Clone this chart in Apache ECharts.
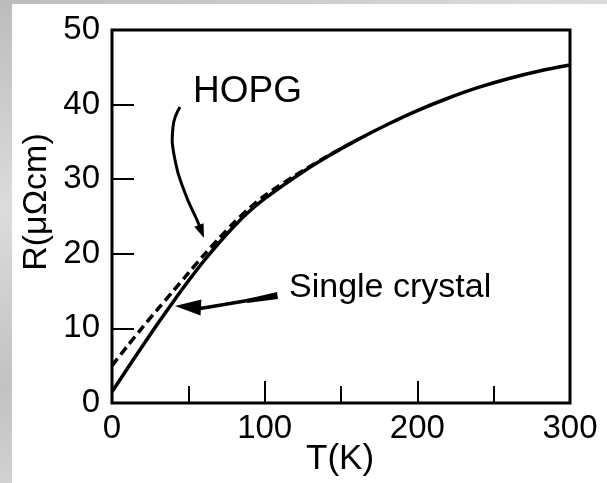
<!DOCTYPE html>
<html lang="en">
<head>
    <meta charset="UTF-8">
    <title>R(T) HOPG / single crystal</title>
    <style>
        html, body {
            margin: 0;
            padding: 0;
            width: 607px;
            height: 483px;
            overflow: hidden;
            background: linear-gradient(160deg, #bcbcbc 0%, #dcdcdc 30%, #c2c2c2 55%, #d8d8d8 75%, #bfbfbf 100%);
        }
        #container {
            position: absolute;
            left: 12px;
            top: 4px;
            width: 595px;
            height: 479px;
            background: #fff;
        }
    </style>
</head>
<body>
<div id="container"></div>
<script src="https://cdn.jsdelivr.net/npm/echarts@6/dist/echarts.min.js"></script>
<script>
    // values
    var T_single = [0, 10, 20, 30, 40, 50, 60, 70, 80, 90, 100, 120, 140, 160, 180, 200, 220, 240, 260, 280, 300];
    var R_single = [1.5, 4.6, 7.65, 10.65, 13.55, 16.35, 19.0, 21.45, 23.7, 25.7, 27.4, 30.3, 32.9, 35.2, 37.3, 39.2, 40.85, 42.3, 43.5, 44.5, 45.3];
    var T_hopg = [0, 10, 20, 30, 40, 50, 60, 70, 80, 90, 100, 120, 140, 160];
    var R_hopg = [5.0, 7.6, 10.15, 12.6, 15.0, 17.4, 19.8, 22.05, 24.2, 26.1, 27.8, 30.5, 32.95, 35.2];
    var xTicks = [0, 100, 200, 300];
    var yTicks = [0, 10, 20, 30, 40, 50];

    function pairs(xs, ys) {
        var out = [];
        for (var i = 0; i < xs.length; i++) {
            out.push([xs[i], ys[i]]);
        }
        return out;
    }

    // little filled arrow head, tip at (tx,ty), coming from (fx,fy)
    function head(fx, fy, tx, ty, len, half) {
        var dx = tx - fx, dy = ty - fy;
        var d = Math.sqrt(dx * dx + dy * dy);
        dx /= d; dy /= d;
        var bx = tx - dx * len, by = ty - dy * len;
        return {
            type: 'polygon',
            shape: { points: [[tx, ty], [bx - dy * half, by + dx * half], [bx + dy * half, by - dx * half]] },
            style: { fill: '#000' }
        };
    }

    var font = 'Liberation Sans';
    var dom = document.getElementById('container');
    var myChart = echarts.init(dom);

    var option = {
        animation: false,
        grid: {
            left: 100,
            top: 26,
            right: 37,
            bottom: 80,
            show: true,
            borderColor: '#000',
            borderWidth: 3,
            backgroundColor: 'transparent'
        },
        xAxis: {
            type: 'value',
            min: 0,
            max: 300,
            interval: 100,
            axisLine: { show: false },
            axisTick: { show: true, inside: true, length: 22, lineStyle: { color: '#000', width: 2 } },
            minorTick: { show: true, splitNumber: 2, length: 17, lineStyle: { color: '#000', width: 2 } },
            splitLine: { show: false },
            axisLabel: {
                color: '#000', fontSize: 33, fontFamily: font, margin: 9,
                formatter: function (v) { return xTicks.indexOf(v) >= 0 ? String(v) : ''; }
            }
        },
        yAxis: {
            type: 'value',
            min: 0,
            max: 50,
            interval: 10,
            axisLine: { show: false },
            axisTick: { show: true, inside: true, length: 22, lineStyle: { color: '#000', width: 2 } },
            splitLine: { show: false },
            axisLabel: {
                color: '#000', fontSize: 33, fontFamily: font, margin: 12,
                formatter: function (v) { return yTicks.indexOf(v) >= 0 ? String(v) : ''; }
            }
        },
        series: [
            {
                name: 'Single crystal',
                type: 'line',
                data: pairs(T_single, R_single),
                smooth: 0.3,
                showSymbol: false,
                lineStyle: { color: '#000', width: 3.5 }
            },
            {
                name: 'HOPG',
                type: 'line',
                data: pairs(T_hopg, R_hopg),
                smooth: 0.3,
                showSymbol: false,
                lineStyle: { color: '#000', width: 3.5, type: [9, 5] }
            }
        ],
        graphic: [
            {
                type: 'text',
                left: 181, top: 69,
                style: { text: 'HOPG', fill: '#000', font: '37px ' + font }
            },
            {
                type: 'polyline',
                shape: { points: [[168, 103], [161, 123], [163, 156], [173, 189], [185, 216], [190, 228]], smooth: 0.5 },
                style: { stroke: '#000', lineWidth: 3, fill: null }
            },
            head(185, 216, 192, 234, 14, 5),
            {
                type: 'text',
                left: 277, top: 267,
                style: { text: 'Single crystal', fill: '#000', font: '34px ' + font }
            },
            {
                type: 'polyline',
                shape: { points: [[262, 292], [221, 299], [185, 305]], smooth: 0.4 },
                style: { stroke: '#000', lineWidth: 3.5, fill: null }
            },
            {
                type: 'polygon',
                shape: { points: [[235, 295], [265, 288], [266, 295], [235, 299]] },
                style: { fill: '#000' }
            },
            head(200, 304, 163, 302, 26, 8),
            {
                type: 'text',
                left: 294, top: 438,
                style: { text: 'T(K)', fill: '#000', font: '35px ' + font }
            },
            {
                type: 'text',
                x: 25, y: 198,
                rotation: Math.PI / 2,
                style: { text: 'R(μΩcm)', fill: '#000', font: '34px ' + font, align: 'center', verticalAlign: 'middle' }
            }
        ]
    };

    myChart.setOption(option);
</script>
</body>
</html>
